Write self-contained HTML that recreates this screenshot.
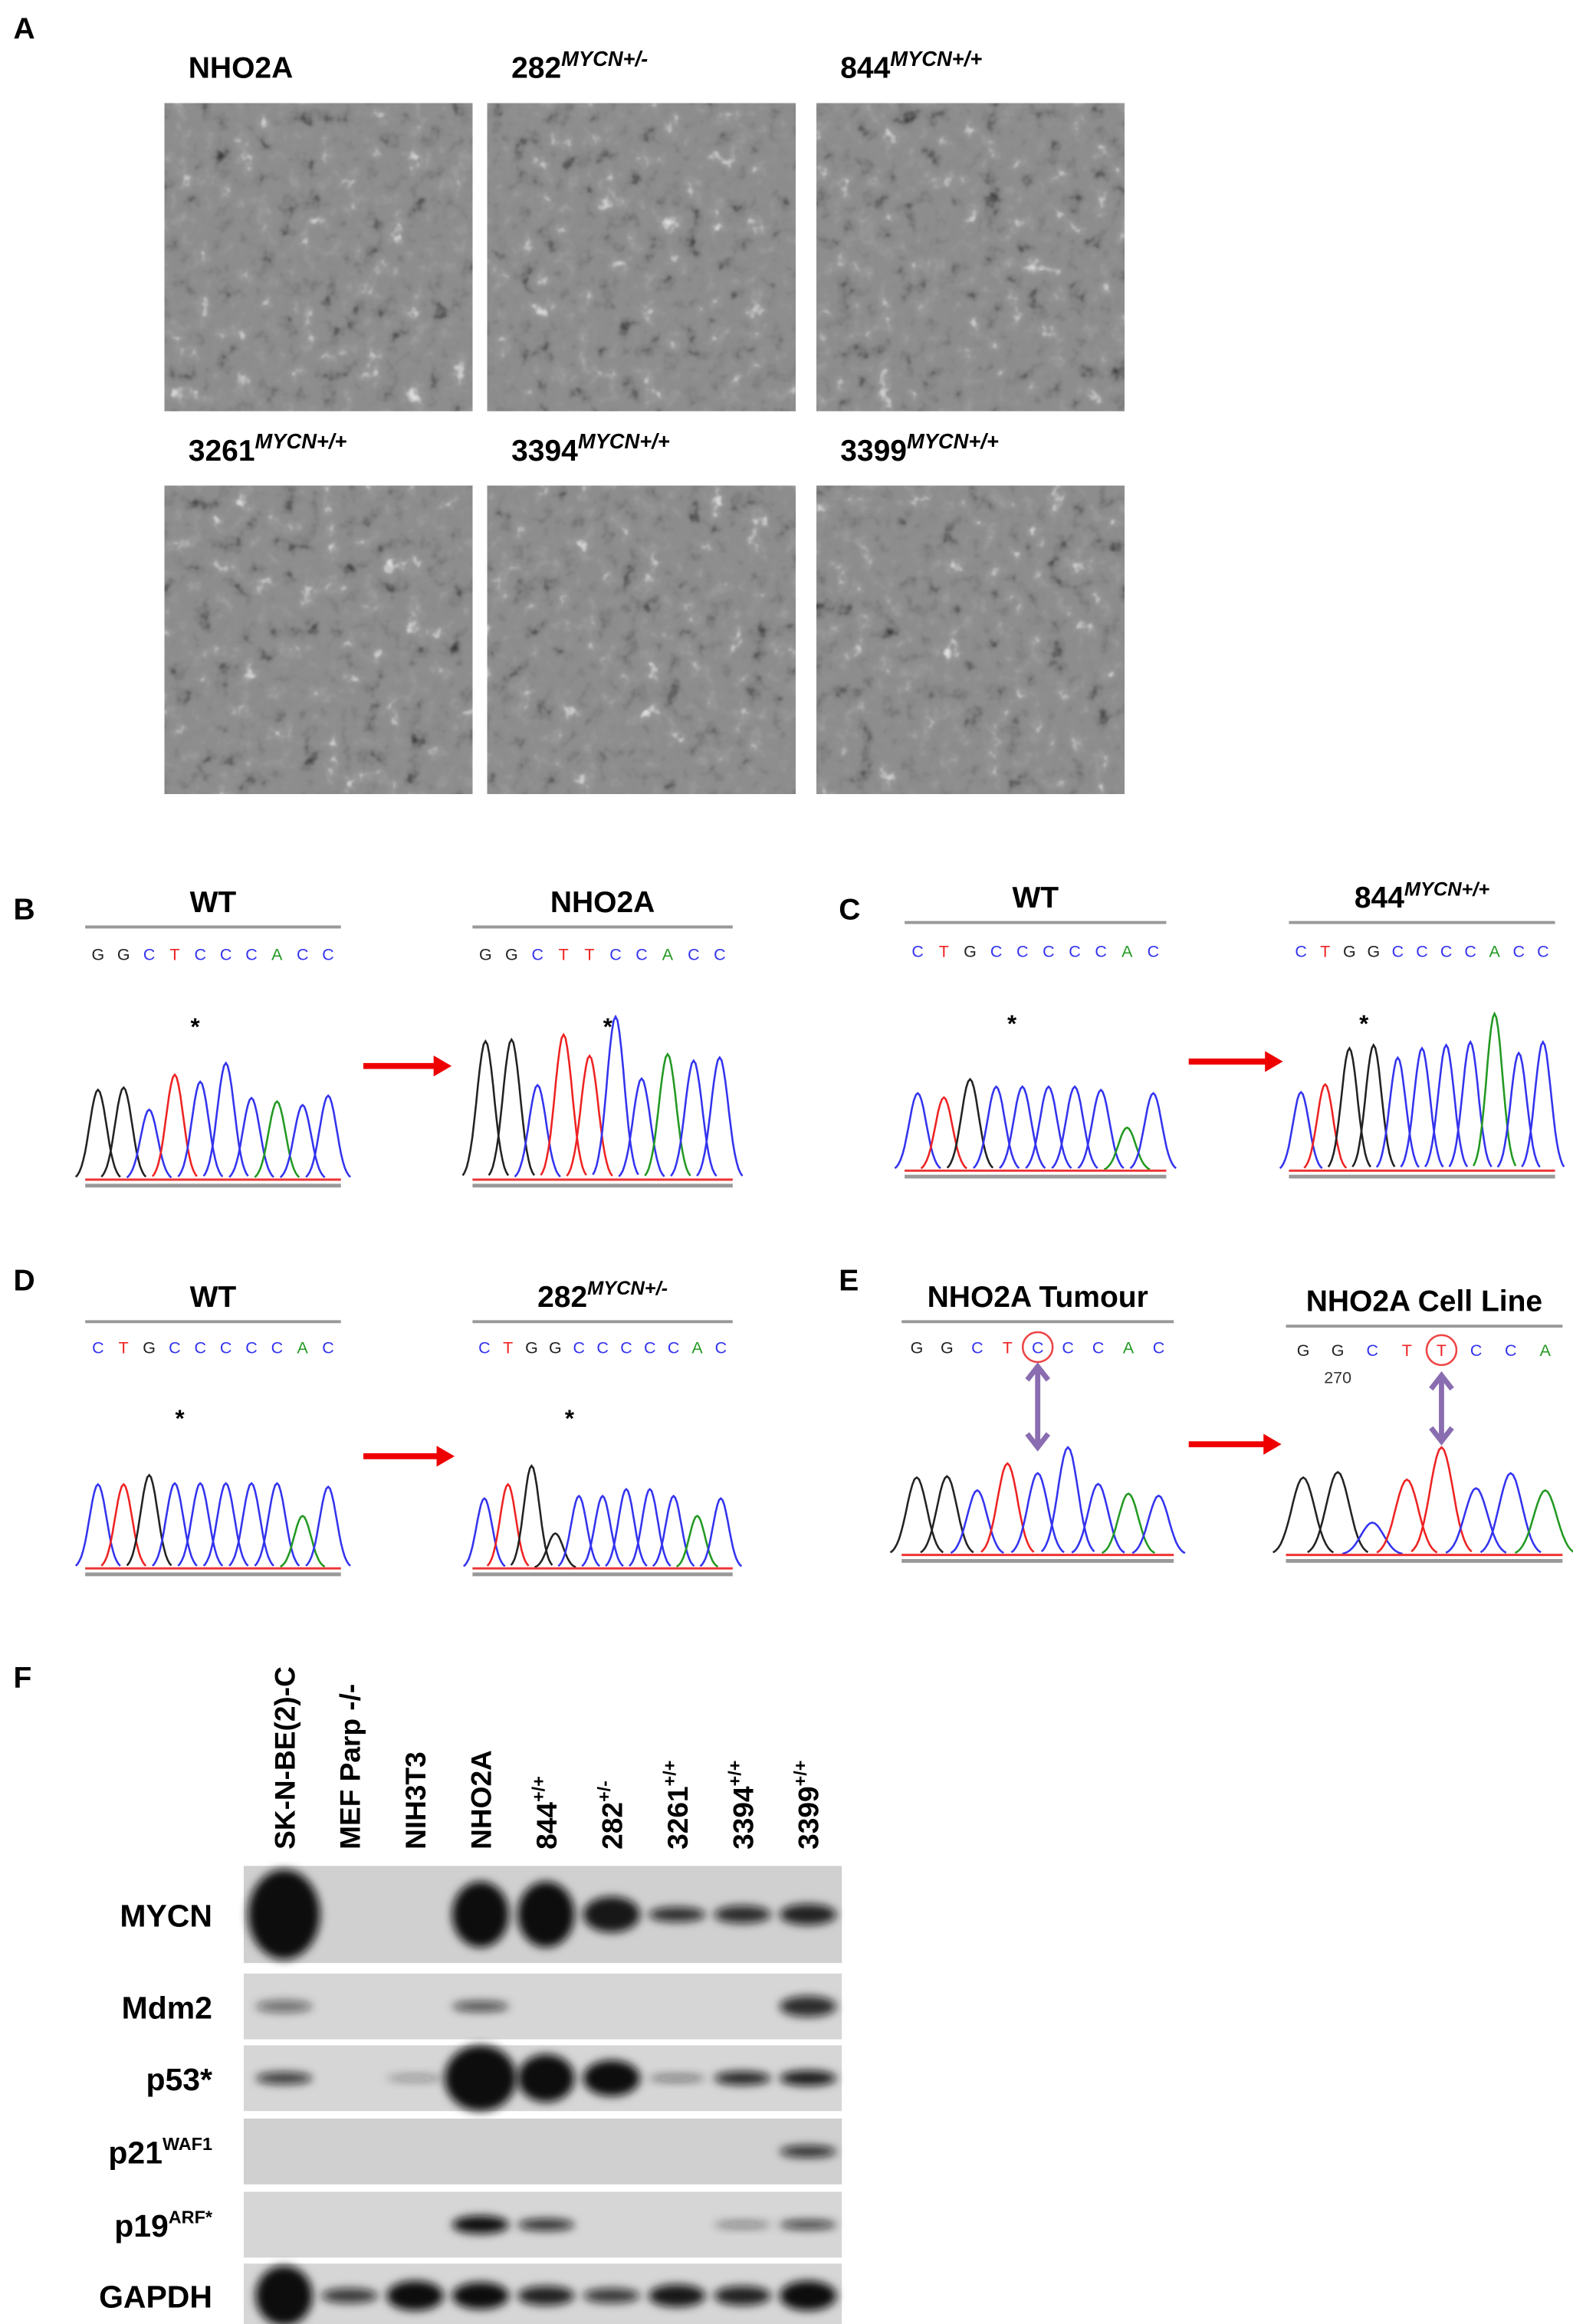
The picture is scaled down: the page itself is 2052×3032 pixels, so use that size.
<!DOCTYPE html>
<html><head><meta charset="utf-8">
<style>
html,body{margin:0;padding:0;background:#fff;}
svg{display:block;}
text{font-family:"Liberation Sans",Arial,sans-serif;}
</style></head>
<body>
<svg id="fig" xmlns="http://www.w3.org/2000/svg" width="2052" height="3032" viewBox="0 0 1052 1554.4">
<defs>
<filter id="cells" x="0" y="0" width="100%" height="100%" color-interpolation-filters="sRGB">
<feTurbulence type="fractalNoise" baseFrequency="0.07" numOctaves="3" seed="4" result="n"/>
<feColorMatrix type="matrix" in="n" result="g" values="1 0 0 0 0  1 0 0 0 0  1 0 0 0 0  0 0 0 0 1"/>
<feComponentTransfer in="g"><feFuncR type="table" tableValues="0.15 0.35 0.5 0.55 0.56 0.6 0.8 0.95"/><feFuncG type="table" tableValues="0.15 0.35 0.5 0.55 0.56 0.6 0.8 0.95"/><feFuncB type="table" tableValues="0.15 0.35 0.5 0.55 0.56 0.6 0.8 0.95"/></feComponentTransfer>
</filter>
<filter id="blur" x="-50%" y="-100%" width="200%" height="300%"><feGaussianBlur stdDeviation="3"/></filter>
</defs>
<g id="panelA"></g>
<g id="chroms"></g>
<g id="blot"></g>
</svg>
<script>
// ---------- chromatogram data ----------
const bWtBases = "GGCTCCCACC";
const bWtHeights = [0.77,0.79,0.6,0.9,0.84,1,0.7,0.67,0.64,0.72];
const bMutBases = "GGCTTCCACC";
const bMutHeights = [0.85,0.86,0.58,0.89,0.76,1,0.62,0.77,0.73,0.75];
const cWtBases = "CTGCCCCCAC";
const cWtHeights = [0.72,0.68,0.85,0.78,0.78,0.78,0.78,0.75,0.4,0.72];
const cMutBases = "CTGGCCCCACC";
const cMutHeights = [0.5,0.55,0.78,0.8,0.72,0.78,0.8,0.82,1,0.75,0.82];
const dWtBases = "CTGCCCCCAC";
const dWtHeights = [0.72,0.72,0.8,0.73,0.73,0.73,0.73,0.73,0.45,0.7];
const dMutBases = "CTGGCCCCCAC";
const dMutHeights = [0.6,0.72,0.88,0.3,0.62,0.62,0.68,0.68,0.62,0.45,0.6];
const eTumBases = "GGCTCCCAC";
const eTumHeights = [0.72,0.73,0.6,0.85,0.76,1,0.66,0.57,0.55];
const eCellBases = "GGCTTCCA";
const eCellHeights = [0.72,0.77,0.3,0.7,1,0.62,0.76,0.6];

// ---------- western blot data ----------
const lanes = ["SK-N-BE(2)-C","MEF Parp -/-","NIH3T3","NHO2A","844","282","3261","3394","3399"];
const laneSup = ["","","","","+/+","+/-","+/+","+/+","+/+"];
const rows = ["MYCN","Mdm2","p53*","p21","p19","GAPDH"];
const mycn = [1,0,0,1,1,0.95,0.85,0.85,0.9];
const mycnThick = [60,0,0,44,44,24,10,12,14];
const mdm2 = [0.55,0,0,0.7,0,0,0,0,0.85];
const mdm2Thick = [8,0,0,7,0,0,0,0,14];
const p53 = [0.8,0,0.35,1,1,1,0.5,0.9,0.95];
const p53Thick = [8,0,5,44,32,24,5,9,10];
const p21 = [0,0,0,0,0,0,0,0,0.85];
const p21Thick = [0,0,0,0,0,0,0,0,8];
const p19 = [0,0,0,1,0.85,0,0,0.45,0.8];
const p19Thick = [0,0,0,12,8,0,0,5,6];
const gapdh = [1,0.8,1,1,0.9,0.8,0.95,0.9,1];
const gapdhThick = [40,10,20,18,13,10,15,13,20];

const NS="http://www.w3.org/2000/svg";
function el(tag, attrs, parent){const e=document.createElementNS(NS,tag);for(const k in attrs)e.setAttribute(k,attrs[k]);parent.appendChild(e);return e;}
function txt(s, attrs, parent){const t=el('text',attrs,parent);t.textContent=s;return t;}

// ---------- Panel A ----------
const A=document.getElementById('panelA');
const la=txt('A',{x:9,y:26,'font-size':20,'font-weight':'bold'},A);

const micro=[["NHO2A","",110,69],["282","MYCN+/-",326,69],["844","MYCN+/+",546,69],
["3261","MYCN+/+",110,325],["3394","MYCN+/+",326,325],["3399","MYCN+/+",546,325]];
micro.forEach((m,i)=>{
  const g=el('g',{},A);
  
  
  el('rect',{x:m[2],y:m[3],width:206,height:206,fill:'#8a8a8a'},g);
  const r=el('rect',{x:m[2],y:m[3],width:206,height:206,filter:'url(#cells)'},g);
  
  const t=txt(m[0],{x:m[2]+16,y:m[3]-17,'font-size':20,'font-weight':'bold'},g);
  if(m[1]){const s=el('tspan',{'font-size':14,dy:-8,'font-style':'italic'},t);s.textContent=m[1];}
  
});

// ---------- chromatograms ----------
const C=document.getElementById('chroms');
const col={G:'#222',C:'#3333ee',T:'#ee2222',A:'#229922'};
function chrom(name,x0,x1,base,maxH,bases,heights,title,sup,letY,lineY,star,starY){
  const g=el('g',{},C);
  
  
  const t=txt(title,{x:(x0+x1)/2,y:lineY-10,'font-size':20,'font-weight':'bold','text-anchor':'middle'},g);
  if(sup){const s=el('tspan',{'font-size':13,dy:-8,'font-style':'italic'},t);s.textContent=sup;}
  el('line',{x1:x0,x2:x1,y1:lineY,y2:lineY,stroke:'#999','stroke-width':2},g);
  const n=bases.length, sp=(x1-x0)/n;
  for(let i=0;i<n;i++){
    const b=bases[i], px=x0+sp*(i+0.5);
    txt(b,{x:px,y:letY,'font-size':11,fill:col[b],'text-anchor':'middle'},g);
    const h=heights[i]*maxH, sg=sp*0.33;
    let d='';
    for(let k=-12;k<=12;k++){const xx=px+k*sg*0.22;const yy=base-h*Math.exp(-Math.pow(k*0.22,2)/2);d+=(k==-12?'M':'L')+xx.toFixed(1)+' '+yy.toFixed(1);}
    const p=el('path',{d:d,fill:'none',stroke:col[b],'stroke-width':1.3},g);
    
  }
  if(star!==undefined){txt('*',{x:x0+sp*(star+0.5),y:starY,'font-size':16,'font-weight':'bold','text-anchor':'middle'},g);}
  el('line',{x1:x0,x2:x1,y1:base,y2:base,stroke:'#e33','stroke-width':1.5},g);
  el('line',{x1:x0,x2:x1,y1:base+4,y2:base+4,stroke:'#999','stroke-width':2.5},g);
  return {g,x0,sp};
}
function arrow(x1,x2,y,name){
  const g=el('g',{},C);
  
  
  el('line',{x1:x1,x2:x2-10,y1:y,y2:y,stroke:'#e00','stroke-width':4},g);
  el('polygon',{points:`${x2},${y} ${x2-12},${y-7} ${x2-12},${y+7}`,fill:'#e00'},g);
}
function label(s,x,y){const t=txt(s,{x:x,y:y,'font-size':20,'font-weight':'bold'},C);}
label('B',9,615);label('C',561,615);label('D',9,863);label('E',561,863);
chrom('chromatogram-b-wt',57,228,789,78,bWtBases,bWtHeights,'WT','',642,620,3.8,692);
chrom('chromatogram-b-nho2a',316,490,789,109,bMutBases,bMutHeights,'NHO2A','',642,620,4.7,692);
arrow(243,302,713,'arrow-b');
chrom('chromatogram-c-wt',605,780,783,72,cWtBases,cWtHeights,'WT','',640,617,3.6,690);
chrom('chromatogram-c-844',862,1040,783,105,cMutBases,cMutHeights,'844','MYCN+/+',640,617,2.6,690);
arrow(795,858,710,'arrow-c');
chrom('chromatogram-d-wt',57,228,1049,78,dWtBases,dWtHeights,'WT','',905,884,3.2,954);
chrom('chromatogram-d-282',316,490,1049,78,dMutBases,dMutHeights,'282','MYCN+/-',905,884,3.6,954);
arrow(243,304,974,'arrow-d');
const et=chrom('chromatogram-e-tumour',603,785,1040,72,eTumBases,eTumHeights,'NHO2A Tumour','',905,884);
const ec=chrom('chromatogram-e-cellline',860,1045,1040,72,eCellBases,eCellHeights,'NHO2A Cell Line','',907,887);
arrow(795,857,966,'arrow-e');
function mark(g,x,y1,y2,cy){
  el('circle',{cx:x,cy:cy,r:10,fill:'none',stroke:'#e44','stroke-width':1.3},g);
  el('line',{x1:x,x2:x,y1:y1,y2:y2,stroke:'#8a6db0','stroke-width':3.5},g);
  el('polyline',{points:`${x-7},${y1+9} ${x},${y1} ${x+7},${y1+9}`,fill:'none',stroke:'#8a6db0','stroke-width':3.5},g);
  el('polyline',{points:`${x-7},${y2-9} ${x},${y2} ${x+7},${y2-9}`,fill:'none',stroke:'#8a6db0','stroke-width':3.5},g);
}
mark(et.g,et.x0+et.sp*4.5,914,968,901);
mark(ec.g,ec.x0+ec.sp*4.5,920,964,903);
txt('270',{x:ec.x0+ec.sp*1.5,y:925,'font-size':11,fill:'#333','text-anchor':'middle'},ec.g);

// ---------- Panel F western blot ----------
const B=document.getElementById('blot');
const lf=txt('F',{x:9,y:1129,'font-size':20,'font-weight':'bold'},B);

const laneX=i=>190+i*43.8;
lanes.forEach((l,i)=>{
  const t=txt(l,{x:0,y:0,'font-size':19,'font-weight':'bold','text-anchor':'start',transform:`translate(${laneX(i)+7},1237) rotate(-90)`},B);
  if(laneSup[i]){const s=el('tspan',{'font-size':12,dy:-8},t);s.textContent=laneSup[i];}
  
  
});
const strips=[[1248,1313,mycn,mycnThick,'#d0d0d0'],[1320,1364,mdm2,mdm2Thick,'#d6d6d6'],[1368,1412,p53,p53Thick,'#d6d6d6'],[1417,1461,p21,p21Thick,'#d0d0d0'],[1466,1510,p19,p19Thick,'#d6d6d6'],[1514,1557,gapdh,gapdhThick,'#d6d6d6']];
const rowLabels=[["MYCN",""],["Mdm2",""],["p53*",""],["p21","WAF1"],["p19","ARF*"],["GAPDH",""]];
strips.forEach((s,r)=>{
  const g=el('g',{},B);
  
  
  el('rect',{x:163,y:s[0],width:400,height:s[1]-s[0],fill:s[4]},g);
  const cy=(s[0]+s[1])/2;
  s[2].forEach((v,i)=>{
    if(v<=0)return;
    const th=Math.min(s[3][i],(s[1]-s[0])+6);
    const w=(r===0&&i===0)||(r===2&&i===3)?24:19;
    const e=el('ellipse',{cx:laneX(i),cy:cy,rx:w,ry:th/2,fill:'#111','fill-opacity':v,filter:'url(#blur)'},g);
    
  });
  const lt=txt(rowLabels[r][0],{x:142,y:cy+8,'font-size':21,'font-weight':'bold','text-anchor':'end'},g);
  if(rowLabels[r][1]){const sp=el('tspan',{'font-size':12,dy:-9},lt);sp.textContent=rowLabels[r][1];}
});
</script>
</body></html>
